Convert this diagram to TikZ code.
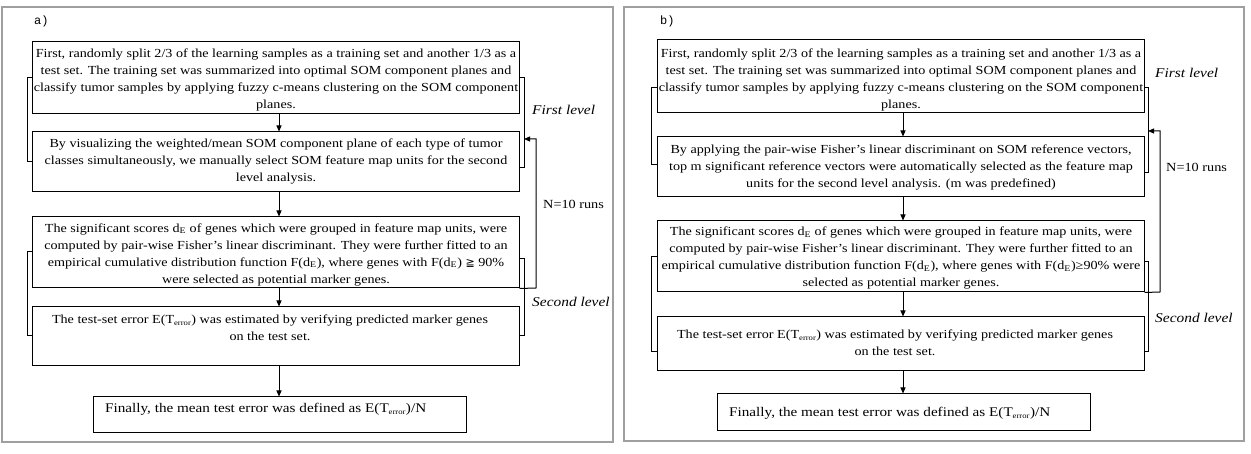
\documentclass[tikz,border=0pt]{standalone}
\usepackage{fontspec}
\setmainfont[FakeStretch=1.15]{Liberation Serif}
\newfontfamily\symfont{DejaVu Sans}
\newfontfamily\labfont{Liberation Mono}
\usetikzlibrary{arrows.meta}
\tikzset{
  box/.style={draw=black, line width=1pt, rectangle, inner sep=0pt},
  txt/.style={inner sep=0pt, align=center, font=\fontsize{12.3}{17}\selectfont},
  ltxt/.style={inner sep=0pt, align=left, font=\fontsize{13.2}{17}\selectfont},
  lvl/.style={inner sep=0pt, anchor=west, font=\fontsize{13.4}{15}\selectfont\itshape},
  runs/.style={inner sep=0pt, anchor=west, font=\fontsize{12.4}{15}\selectfont},
  panel/.style={draw=gray!75, line width=1.6pt},
  flow/.style={line width=1pt, -{Triangle[length=6pt,width=5pt]}},
  brk/.style={line width=1pt},
  plab/.style={inner sep=0pt, anchor=west, font=\labfont\fontsize{12}{14}\selectfont}
}
\newcommand{\sbE}{\textsubscript{E}}
\newcommand{\sberr}{\textsubscript{\fontsize{7.5}{8}\selectfont error}}
\begin{document}
\begin{tikzpicture}[x=1pt,y=-1pt]
\useasboundingbox (0,0) rectangle (1251,454);
\fill[white] (0,0) rectangle (1251,454);
% ---------------- panel a ----------------
\draw[panel] (2,7) rectangle (613,442);
\node[plab] (la) at (34,21) {a)};
\node[box, minimum width=487pt, minimum height=72pt] (a1) at (275.5,78) {};
\node[box, minimum width=487pt, minimum height=60pt] (a2) at (275.5,162) {};
\node[box, minimum width=487pt, minimum height=71pt] (a3) at (275.5,252.5) {};
\node[box, minimum width=487pt, minimum height=59pt] (a4) at (275.5,336.5) {};
\node[box, minimum width=373pt, minimum height=35pt] (a5) at (279.5,414.5) {};
\node[txt] (a1t) at (276,80) {First, randomly split 2/3 of the learning samples as a training set and another 1/3 as a\\test set. The training set was summarized into optimal SOM component planes and\\classify tumor samples by applying fuzzy c-means clustering on the SOM component\\planes.};
\node[txt] (a2t) at (276,161.5) {By visualizing the weighted/mean SOM component plane of each type of tumor\\classes simultaneously, we manually select SOM feature map units for the second\\level analysis.};
\node[txt] (a3t) at (276,254.5) {The significant scores d\sbE{} of genes which were grouped in feature map units, were\\computed by pair-wise Fisher's linear discriminant. They were further fitted to an\\empirical cumulative distribution function F(d\sbE), where genes with F(d\sbE) {\symfont\fontsize{11}{11}\selectfont ≧} 90\%\\were selected as potential marker genes.};
\node[txt] (a4t) at (270,327.5) {The test-set error E(T\sberr) was estimated by verifying predicted marker genes\\on the test set.};
\node[ltxt, anchor=west] (a5t) at (105,409) {Finally, the mean test error was defined as E(T\sberr)/N};
\draw[flow] (a1.south -| 279,0) -- (a2.north -| 279,0);
\draw[flow] (a2.south -| 279,0) -- (a3.north -| 279,0);
\draw[flow] (a3.south -| 279,0) -- (a4.north -| 279,0);
\draw[flow] (a4.south -| 279,0) -- (a5.north -| 279,0);
% brackets
\coordinate (a1L) at (a1.west |- 0,78);
\coordinate (a2L) at (a2.west |- 0,162);
\draw[brk] (a1L) -- (27,78) -- (27,162) -- (a2L);
\coordinate (a1R) at (a1.east |- 0,78);
\coordinate (a2R) at (a2.east |- 0,168);
\draw[brk] (a1R) -- (524,78) -- (524,168) -- (a2R);
\coordinate (a3L) at (a3.west |- 0,252);
\coordinate (a4L) at (a4.west |- 0,336);
\draw[brk] (a3L) -- (27,252) -- (27,336) -- (a4L);
\coordinate (a3R) at (a3.east |- 0,259);
\coordinate (a4R) at (a4.east |- 0,336);
\draw[brk] (a3R) -- (524,259) -- (524,336) -- (a4R);
% feedback
\coordinate (aFB) at (524,139);
\draw[flow] (a3.south east) -- (536,288) -- (536,139) -- (aFB);
\node[lvl] (af) at (532,110) {First level};
\node[runs] (an) at (543,204) {N=10 runs};
\node[lvl] (as) at (532,302) {Second level};
% ---------------- panel b ----------------
\draw[panel] (624,7) rectangle (1244,441);
\node[plab] (lb) at (660,21) {b)};
\node[box, minimum width=487pt, minimum height=73pt] (b1) at (900.5,76.5) {};
\node[box, minimum width=487pt, minimum height=60pt] (b2) at (900.5,167) {};
\node[box, minimum width=487pt, minimum height=71pt] (b3) at (900.5,256.5) {};
\node[box, minimum width=487pt, minimum height=54pt] (b4) at (900.5,344) {};
\node[box, minimum width=373pt, minimum height=36pt] (b5) at (903.5,412) {};
\node[txt] (b1t) at (901,79.5) {First, randomly split 2/3 of the learning samples as a training set and another 1/3 as a\\test set. The training set was summarized into optimal SOM component planes and\\classify tumor samples by applying fuzzy c-means clustering on the SOM component\\planes.};
\node[txt] (b2t) at (901,167.5) {By applying the pair-wise Fisher's linear discriminant on SOM reference vectors,\\top m significant reference vectors were automatically selected as the feature map\\units for the second level analysis. (m was predefined)};
\node[txt] (b3t) at (901,258) {The significant scores d\sbE{} of genes which were grouped in feature map units, were\\computed by pair-wise Fisher's linear discriminant. They were further fitted to an\\empirical cumulative distribution function F(d\sbE), where genes with F(d\sbE)≥90\% were\\selected as potential marker genes.};
\node[txt] (b4t) at (895,342.5) {The test-set error E(T\sberr) was estimated by verifying predicted marker genes\\on the test set.};
\node[ltxt, anchor=west] (b5t) at (729,413) {Finally, the mean test error was defined as E(T\sberr)/N};
\draw[flow] (b1.south -| 903,0) -- (b2.north -| 903,0);
\draw[flow] (b2.south -| 903,0) -- (b3.north -| 903,0);
\draw[flow] (b3.south -| 903,0) -- (b4.north -| 903,0);
\draw[flow] (b4.south -| 903,0) -- (b5.north -| 903,0);
\coordinate (b1L) at (b1.west |- 0,88);
\coordinate (b2L) at (b2.west |- 0,165);
\draw[brk] (b1L) -- (651,88) -- (651,165) -- (b2L);
\coordinate (b1R) at (b1.east |- 0,88);
\coordinate (b2R) at (b2.east |- 0,173);
\draw[brk] (b1R) -- (1148,88) -- (1148,173) -- (b2R);
\coordinate (b3L) at (b3.west |- 0,257);
\coordinate (b4L) at (b4.west |- 0,352);
\draw[brk] (b3L) -- (651,257) -- (651,352) -- (b4L);
\coordinate (b3R) at (b3.east |- 0,262);
\coordinate (b4R) at (b4.east |- 0,352);
\draw[brk] (b3R) -- (1148,262) -- (1148,352) -- (b4R);
\coordinate (bFB) at (1148,131);
\draw[flow] (b3.south east) -- (1160,292) -- (1160,131) -- (bFB);
\node[lvl] (bf) at (1155,73) {First level};
\node[runs] (bn) at (1166,167) {N=10 runs};
\node[lvl] (bs) at (1155,318) {Second level};
\end{tikzpicture}
\end{document}
